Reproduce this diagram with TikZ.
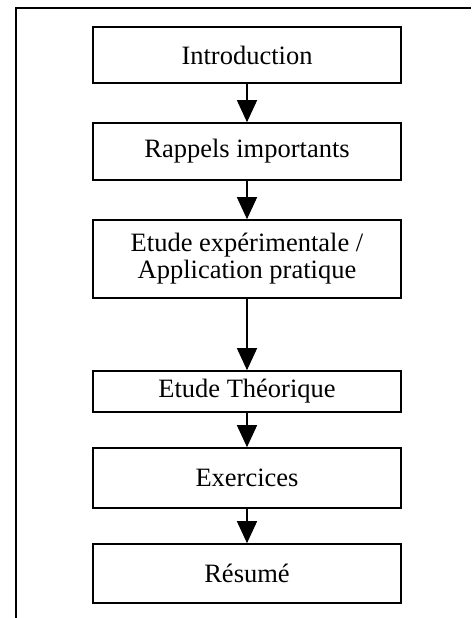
\documentclass[tikz,border=0pt]{standalone}
\usepackage{fontspec}
\setmainfont{Liberation Serif}
\usetikzlibrary{arrows.meta}
\begin{document}
\begin{tikzpicture}[x=1pt,y=-1pt,
  stepbox/.style={draw=black,line width=1.6pt,minimum width=308pt,inner sep=0pt,
    font=\fontsize{26.5}{27}\selectfont,align=center,fill=white},
  flow/.style={line width=1.3pt,-{Triangle[width=20pt,length=22pt]}},
  frame/.style={line width=2pt}]
\useasboundingbox (0,0) rectangle (471,618);
\fill[white] (0,0) rectangle (471,618);
\coordinate (fa) at (15.5,618);
\coordinate (fb) at (15.5,8);
\coordinate (fc) at (471,8);
\draw[frame] (fa) -- (fb) -- (fc);
\node[stepbox,minimum height=56pt] (intro) at (247,55) {Introduction};
\node[stepbox,minimum height=57pt] (rappels) at (247,151.5) {Rappels importants};
\node[stepbox,minimum height=78pt] (exp) at (247,259) {Etude expérimentale /\\Application pratique};
\node[stepbox,minimum height=41pt] (theo) at (247,391.5) {Etude Théorique};
\node[stepbox,minimum height=60pt] (exo) at (247,478) {Exercices};
\node[stepbox,minimum height=59pt] (resume) at (247,573.5) {Résumé};
\draw[flow] (intro) -- (rappels);
\draw[flow] (rappels) -- (exp);
\draw[flow] (exp) -- (theo);
\draw[flow] (theo) -- (exo);
\draw[flow] (exo) -- (resume);
\end{tikzpicture}
\end{document}
